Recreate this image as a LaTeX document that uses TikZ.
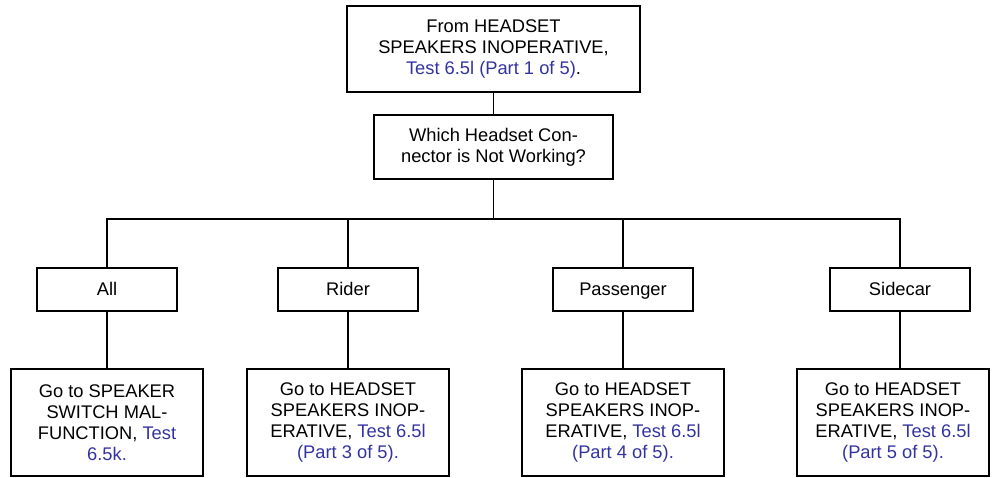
\documentclass[tikz,border=0pt]{standalone}
\usepackage{fontspec}
\setmainfont{Liberation Sans}
\usepackage{xcolor}
\usetikzlibrary{arrows}
\definecolor{testblue}{RGB}{51,51,160}
\newcommand{\testref}[1]{\textcolor{testblue}{#1}}

\begin{document}
\begin{tikzpicture}[x=1pt, y=1pt, node distance=98pt,
    block/.style={rectangle, draw, line width=1.2pt, align=center, inner sep=2pt, font=\fontsize{18.3}{20.8}\selectfont},
    choice/.style={block, minimum width=140pt, minimum height=43pt, text height=12.5pt, text depth=0pt},
    result/.style={block, minimum width=202pt, minimum height=107pt},
    link/.style={line width=1.2pt}]
    \useasboundingbox (0,0) rectangle (992,-477);
    \node[block, minimum width=293pt, minimum height=86pt] (from) at (493.5,-49) {From HEADSET\\SPEAKERS INOPERATIVE,\\\testref{Test 6.5l (Part 1 of 5)}.};
    \node[block, below of=from, minimum width=239pt, minimum height=64pt] (which) {Which Headset Con-\\nector is Not Working?};
    \coordinate[below of=which, node distance=72pt] (bus);
    \node[choice] (all) at (107,-289.5) {All};
    \node[choice, right of=all, node distance=241pt] (rider) {Rider};
    \node[choice, right of=rider, node distance=275pt] (pass) {Passenger};
    \node[choice, right of=pass, node distance=277pt] (side) {Sidecar};
    \node[result, below of=all, node distance=133pt, minimum width=192pt] (goall) {Go to SPEAKER\\SWITCH MAL-\\FUNCTION, \testref{Test}\\\testref{6.5k.}};
    \node[result, below of=rider, node distance=133pt] (gorider) {Go to HEADSET\\SPEAKERS INOP-\\ERATIVE, \testref{Test 6.5l}\\\testref{(Part 3 of 5).}};
    \node[result, below of=pass, node distance=133pt] (gopass) {Go to HEADSET\\SPEAKERS INOP-\\ERATIVE, \testref{Test 6.5l}\\\testref{(Part 4 of 5).}};
    \node[result, below of=side, node distance=133pt, xshift=-7pt, minimum width=192pt] (goside) {Go to HEADSET\\SPEAKERS INOP-\\ERATIVE, \testref{Test 6.5l}\\\testref{(Part 5 of 5).}};

    \draw[link] (from) -- (which);
    \draw[link] (which) -- (bus);
    \draw[link] (all.north) |- (bus) -| (side.north);
    \draw[link] (rider.north) -- (rider.north |- bus);
    \draw[link] (pass.north) -- (pass.north |- bus);
    \draw[link] (all) -- (goall);
    \draw[link] (rider) -- (gorider);
    \draw[link] (pass) -- (gopass);
    \draw[link] (side.south) -- (side.south |- goside.north);
\end{tikzpicture}
\end{document}
